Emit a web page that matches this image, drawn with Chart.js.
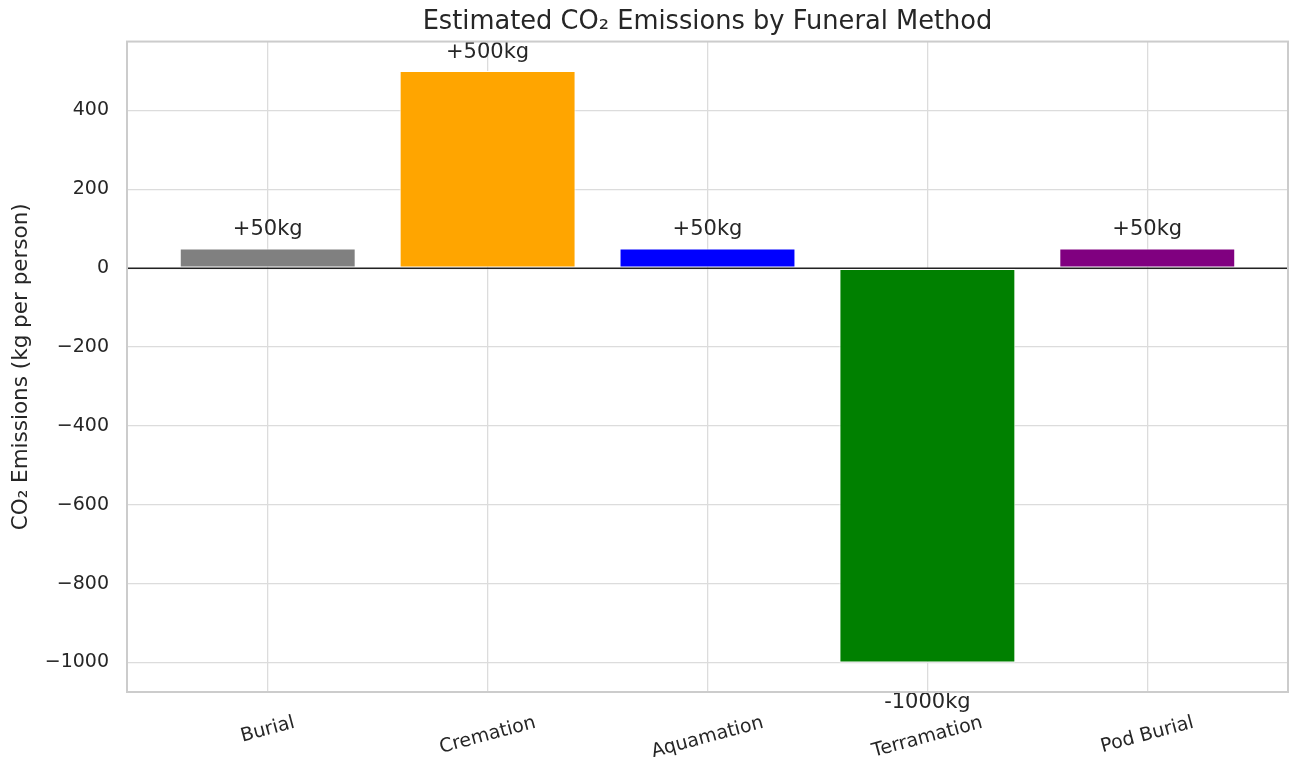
<!DOCTYPE html>
<html>
<head>
<meta charset="utf-8">
<script src="https://cdn.jsdelivr.net/npm/chart.js@4.4.1/dist/chart.umd.min.js"></script>
<style>
  html, body { margin: 0; padding: 0; background: #ffffff; }
  #wrap { width: 1289px; height: 757px; }
</style>
</head>
<body>
<div id="wrap"><canvas id="chart" width="1289" height="757"></canvas></div>
<script>
// Funeral methods and their estimated CO2 balance (kg per person)
const methods = ['Burial', 'Cremation', 'Aquamation', 'Terramation', 'Pod Burial'];
const emissions = [50, 500, 50, -1000, 50];
const barColors = ['#808080', '#FFA500', '#0000FF', '#008000', '#800080'];
const yTicks = [-1000, -800, -600, -400, -200, 0, 200, 400];

const FONT = 'DejaVu Sans';
const INK = '#262626';

function valueText(v) {
  return (v > 0 ? '+' : '') + v + 'kg';
}

// Spines, zero line, bar annotations and rotated category labels
const overlay = {
  id: 'overlay',
  afterDatasetsDraw(chart) {
    const { ctx, chartArea: a, scales: { y } } = chart;
    const y0 = y.getPixelForValue(0);
    ctx.save();
    ctx.strokeStyle = '#222222';
    ctx.lineWidth = 1.4;
    ctx.beginPath();
    ctx.moveTo(a.left, y0);
    ctx.lineTo(a.right, y0);
    ctx.stroke();
    ctx.restore();
  },
  afterDraw(chart) {
    const { ctx, chartArea: a, scales: { x, y } } = chart;
    ctx.save();

    // value annotations
    ctx.fillStyle = INK;
    ctx.font = '21px "' + FONT + '"';
    ctx.textAlign = 'center';
    emissions.forEach((v, i) => {
      const px = x.getPixelForValue(i);
      if (v >= 0) {
        ctx.textBaseline = 'bottom';
        ctx.fillText(valueText(v), px, y.getPixelForValue(v + 21));
      } else {
        ctx.textBaseline = 'top';
        ctx.fillText(valueText(v), px, y.getPixelForValue(v - 75));
      }
    });

    // category labels, rotated 15 degrees and centred on their ticks
    const rot = 15 * Math.PI / 180;
    ctx.font = '19px "' + FONT + '"';
    ctx.textBaseline = 'middle';
    ctx.textAlign = 'center';
    const h = 22;
    methods.forEach((m, i) => {
      const w = ctx.measureText(m).width;
      const H = w * Math.sin(rot) + h * Math.cos(rot);
      const cx = x.getPixelForValue(i);
      const cy = a.bottom + 20 + H / 2;
      ctx.save();
      ctx.translate(cx, cy);
      ctx.rotate(-rot);
      ctx.fillText(m, 0, 0);
      ctx.restore();
    });

    // axes frame
    ctx.strokeStyle = '#cccccc';
    ctx.lineWidth = 2;
    ctx.strokeRect(a.left, a.top, a.right - a.left, a.bottom - a.top);
    ctx.restore();
  }
};

new Chart(document.getElementById('chart').getContext('2d'), {
  type: 'bar',
  data: {
    datasets: [{
      data: methods.map((m, i) => ({ x: i, y: emissions[i] })),
      backgroundColor: barColors,
      borderColor: '#ffffff',
      borderWidth: 1,
      borderSkipped: false,
      barPercentage: 0.8,
      categoryPercentage: 1
    }]
  },
  options: {
    responsive: false,
    animation: false,
    devicePixelRatio: 1,
    layout: { padding: { left: 0, right: 1, top: 0, bottom: 0 } },
    plugins: {
      legend: { display: false },
      tooltip: { enabled: false },
      title: {
        display: true,
        fullSize: false,
        text: 'Estimated CO₂ Emissions by Funeral Method',
        color: INK,
        font: { family: FONT, size: 25.7, weight: 'normal', lineHeight: 1.15 },
        padding: { top: 8, bottom: 4 }
      }
    },
    scales: {
      x: {
        type: 'linear',
        min: -0.64,
        max: 4.64,
        offset: false,
        afterBuildTicks: s => { s.ticks = methods.map((m, i) => ({ value: i })); },
        ticks: { display: false },
        grid: { color: '#dcdcdc', lineWidth: 1.3, drawTicks: false, offset: false },
        border: { display: false },
        afterFit: s => { s.height = 65; }
      },
      y: {
        min: -1075,
        max: 575,
        afterBuildTicks: s => { s.ticks = yTicks.map(v => ({ value: v })); },
        ticks: {
          color: INK,
          font: { family: FONT, size: 19 },
          padding: 18,
          callback: v => String(v).replace('-', '\u2212')
        },
        grid: { color: '#dcdcdc', lineWidth: 1.3, drawTicks: false },
        border: { display: false },
        title: {
          display: true,
          text: 'CO₂ Emissions (kg per person)',
          color: INK,
          font: { family: FONT, size: 21.5, lineHeight: 1.2 },
          padding: { top: 9, bottom: 0 }
        },
        afterFit: s => { s.width = 127; }
      }
    }
  },
  plugins: [overlay]
});
</script>
</body>
</html>
